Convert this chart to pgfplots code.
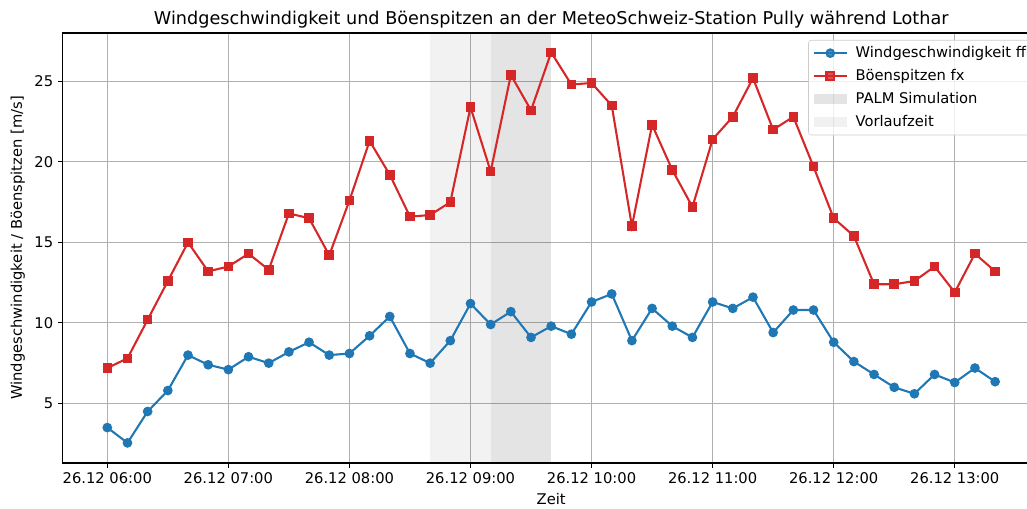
\documentclass[border=0pt]{standalone}
\usepackage{fontspec}
\setmainfont{DejaVu Sans}
\usepackage{pgfplots}
\usepackage{pgfplotstable}
\pgfplotsset{compat=1.18}
\usetikzlibrary{calc}
\definecolor{mplblue}{HTML}{1F77B4}
\definecolor{mplred}{HTML}{D62728}
\definecolor{gridc}{HTML}{B0B0B0}
\pgfplotstableread{
t ff fx
0 3.5 7.2
1 2.55 7.8
2 4.5 10.2
3 5.8 12.6
4 8.0 15.0
5 7.4 13.2
6 7.1 13.5
7 7.9 14.3
8 7.5 13.3
9 8.2 16.8
10 8.8 16.5
11 8.0 14.2
12 8.1 17.6
13 9.2 21.3
14 10.4 19.2
15 8.1 16.6
16 7.5 16.7
17 8.9 17.5
18 11.2 23.4
19 9.9 19.4
20 10.7 25.4
21 9.1 23.2
22 9.8 26.8
23 9.3 24.8
24 11.3 24.9
25 11.8 23.5
26 8.9 16.0
27 10.9 22.3
28 9.8 19.5
29 9.1 17.2
30 11.3 21.4
31 10.9 22.8
32 11.6 25.2
33 9.4 22.0
34 10.8 22.8
35 10.8 19.7
36 8.8 16.5
37 7.6 15.4
38 6.8 12.4
39 6.0 12.4
40 5.6 12.6
41 6.8 13.5
42 6.3 11.9
43 7.2 14.3
44 6.35 13.2
}\wind
\begin{document}
\begin{tikzpicture}
\begin{axis}[
  name=ax,
  scale only axis,
  width=703.2pt, height=309.6pt,
  xmin=-2.2, xmax=46.2,
  ymin=1.3, ymax=28.0,
  xtick={0,6,12,18,24,30,36,42},
  xticklabels={26.12 06:00,26.12 07:00,26.12 08:00,26.12 09:00,26.12 10:00,26.12 11:00,26.12 12:00,26.12 13:00},
  ytick={5,10,15,20,25},
  /pgf/number format/assume math mode=true,
  tick align=outside,
  major tick length=3.5pt,
  major tick style={draw=black, line width=0.8pt},
  axis line style={black, line width=0.8pt},
  xtick pos=bottom, ytick pos=left,
  xmajorgrids, ymajorgrids,
  major grid style={draw=gridc, line width=0.8pt},
  ticklabel style={font=\fontsize{10.6}{12.7}\selectfont},
  title={Windgeschwindigkeit und Böenspitzen an der MeteoSchweiz-Station Pully während Lothar},
  title style={font=\fontsize{12.7}{15}\selectfont, at={(axis description cs:0.5,1)}, anchor=south, inner sep=0pt, yshift=-2.5pt},
  xlabel={Zeit},
  ylabel={Windgeschwindigkeit / Böenspitzen [m/s]},
  label style={font=\fontsize{10.6}{12.7}\selectfont},
  legend cell align=left,
  legend style={at={(axis description cs:1,1)}, anchor=north east, xshift=-5pt, yshift=-5pt,
    draw=black!20, rounded corners=2pt, fill=white, fill opacity=0.8, text opacity=1,
    font=\fontsize{10.6}{12.7}\selectfont, row sep=4pt, inner sep=3pt,
    nodes={inner sep=1.5pt},
    /tikz/every odd column/.append style={column sep=4pt}},
  legend image code/.code={\draw[mark repeat=2,mark phase=2] plot coordinates {(0cm,0cm) (0.42cm,0cm) (0.84cm,0cm)};},
]
\addplot[forget plot, draw=none, fill=black, fill opacity=0.05] coordinates {(16,30) (19,30)} \closedcycle;
\addplot[forget plot, draw=none, fill=black, fill opacity=0.105] coordinates {(19,30) (22,30)} \closedcycle;
\addplot[mplblue, line width=1.5pt, mark=*, mark size=2.7pt, mark options={mplblue}] table[x=t, y=ff] {\wind};
\addlegendentry{Windgeschwindigkeit ff}
\addplot[mplred, line width=1.5pt, mark=square*, mark size=2.7pt, mark options={mplred}] table[x=t, y=fx] {\wind};
\addlegendentry{Böenspitzen fx}
\addlegendimage{legend image code/.code={\path[sharp corners, draw=none, fill=black, fill opacity=0.105] (0cm,-0.12cm) rectangle (0.84cm,0.14cm);}}
\addlegendentry{PALM Simulation}
\addlegendimage{legend image code/.code={\path[sharp corners, draw=none, fill=black, fill opacity=0.05] (0cm,-0.12cm) rectangle (0.84cm,0.14cm);}}
\addlegendentry{Vorlaufzeit}
\end{axis}
\pgfresetboundingbox
\path ($(ax.south west)+(-45.3pt,-32.4pt)$) rectangle ($(ax.south west)+(694.2pt,309.6pt+23.8pt)$);
\end{tikzpicture}
\end{document}
